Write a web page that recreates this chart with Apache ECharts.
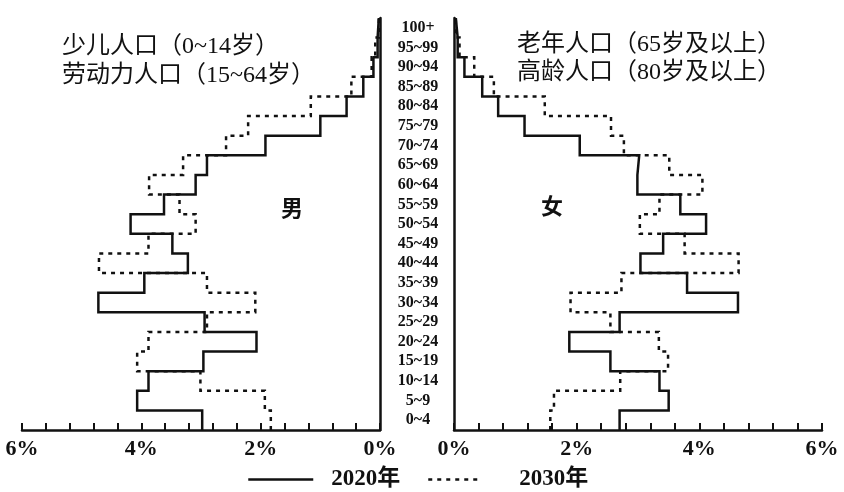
<!DOCTYPE html>
<html>
<head>
<meta charset="utf-8">
<title>人口金字塔</title>
<script src="https://cdn.jsdelivr.net/npm/echarts@6/dist/echarts.min.js"></script>
<style>
  html, body { margin: 0; background: #fff; }
  #chart { width: 844px; height: 492px; }
</style>
</head>
<body>
<div id="chart"></div>
<script>
// 年龄组（自下而上）
const ageGroups = ["0~4", "5~9", "10~14", "15~19", "20~24", "25~29", "30~34", "35~39", "40~44", "45~49",
  "50~54", "55~59", "60~64", "65~69", "70~74", "75~79", "80~84", "85~89", "90~94", "95~99", "100+"];

// 男性占比（%）
const male2020 = [2.98, 4.07, 3.88, 2.96, 2.07, 2.94, 4.72, 3.95, 3.22, 3.48,
  4.18, 3.62, 3.09, 2.90, 1.92, 1.00, 0.56, 0.28, 0.11, 0.04, 0.02];
const male2030 = [1.83, 1.93, 3.01, 4.07, 3.88, 2.90, 2.09, 2.90, 4.71, 3.88,
  3.09, 3.36, 3.87, 3.30, 2.58, 2.21, 1.16, 0.48, 0.14, 0.08, 0.02];

// 女性占比（%）
const female2020 = [2.70, 3.50, 3.35, 2.55, 1.88, 2.70, 4.63, 3.80, 3.04, 3.41,
  4.11, 3.69, 2.99, 3.02, 2.05, 1.15, 0.72, 0.46, 0.17, 0.06, 0.03];
const female2030 = [1.57, 1.63, 2.71, 3.49, 3.34, 2.55, 1.90, 2.73, 4.64, 3.76,
  3.03, 3.35, 4.05, 3.51, 2.77, 2.56, 1.48, 0.65, 0.33, 0.09, 0.03];

const pctTicks = [0, 2, 4, 6];

const serifFont = '"Liberation Serif", "DejaVu Serif", "Noto Sans CJK SC", serif';
const ink = "#111";

// 每个年龄组画成一段竖线，相邻组之间用横线相连（阶梯轮廓）
function stepPoints(values) {
  const pts = [];
  values.forEach((v, i) => {
    pts.push([v, i * 5]);
    pts.push([v, i * 5 + 5]);
  });
  return pts;
}

const pctLabel = (v) => {
  const r = Math.round(v * 10) / 10;
  return pctTicks.includes(r) ? r + "%" : "";
};

const xAxisBase = (gridIndex, inverse) => ({
  type: "value",
  gridIndex,
  inverse,
  min: 0,
  max: 6,
  interval: 0.4,
  axisLine: { onZero: false, lineStyle: { color: ink, width: 2.5 } },
  axisTick: { inside: true, length: 7, lineStyle: { color: ink, width: 2 } },
  splitLine: { show: false },
  axisLabel: {
    formatter: pctLabel,
    color: ink,
    fontFamily: serifFont,
    fontWeight: "bold",
    fontSize: 22,
    margin: 8,
  },
});

const lineSolid = { color: ink, width: 2.5, type: "solid", cap: "butt", join: "miter" };
const lineDash = { color: ink, width: 2.5, type: [4, 5], cap: "butt", join: "miter" };

const legendText = {
  color: ink,
  fontFamily: serifFont,
  fontWeight: "bold",
  fontSize: 23,
};

const chart = echarts.init(document.getElementById("chart"));

chart.setOption({
  animation: false,
  backgroundColor: "#fff",
  color: [ink, ink],
  grid: [
    { left: 22, width: 358, top: 18, bottom: 62 },
    { left: 454, width: 368, top: 18, bottom: 62 },
  ],
  xAxis: [xAxisBase(0, true), xAxisBase(1, false)],
  yAxis: [
    {
      type: "category",
      gridIndex: 0,
      position: "right",
      data: ageGroups,
      axisLine: { onZero: false, lineStyle: { color: ink, width: 2.5 } },
      axisTick: { show: false },
      axisLabel: {
        align: "center",
        margin: 38,
        color: ink,
        fontFamily: serifFont,
        fontWeight: "bold",
        fontSize: 16,
        interval: 0,
      },
    },
    { type: "value", gridIndex: 0, min: 0, max: 105, show: false },
    {
      type: "category",
      gridIndex: 1,
      position: "left",
      data: ageGroups,
      axisLine: { onZero: false, lineStyle: { color: ink, width: 2.5 } },
      axisTick: { show: false },
      axisLabel: { show: false },
    },
    { type: "value", gridIndex: 1, min: 0, max: 105, show: false },
  ],
  legend: [
    {
      data: ["2020年"],
      left: 247,
      top: 468,
      padding: 0,
      itemWidth: 65,
      itemHeight: 14,
      itemStyle: { opacity: 0 },
      lineStyle: { width: 2.5 },
      textStyle: Object.assign({ padding: [0, 0, 0, 13] }, legendText),
    },
    {
      data: ["2030年"],
      left: 427,
      top: 468,
      padding: 0,
      itemWidth: 54,
      itemHeight: 14,
      itemStyle: { opacity: 0 },
      lineStyle: { width: 2.5 },
      textStyle: Object.assign({ padding: [0, 0, 0, 32] }, legendText),
    },
  ],
  series: [
    { name: "2030年", type: "line", xAxisIndex: 0, yAxisIndex: 1, symbol: "none",
      data: stepPoints(male2030), lineStyle: lineDash },
    { name: "2020年", type: "line", xAxisIndex: 0, yAxisIndex: 1, symbol: "none",
      data: stepPoints(male2020), lineStyle: lineSolid },
    { name: "2030年", type: "line", xAxisIndex: 1, yAxisIndex: 3, symbol: "none",
      data: stepPoints(female2030), lineStyle: lineDash },
    { name: "2020年", type: "line", xAxisIndex: 1, yAxisIndex: 3, symbol: "none",
      data: stepPoints(female2020), lineStyle: lineSolid },
  ],
  graphic: [
    { type: "text", x: 62, y: 47, style: { text: "少儿人口（0~14岁）", fill: ink,
      font: "24px " + serifFont, verticalAlign: "middle" } },
    { type: "text", x: 62, y: 76, style: { text: "劳动力人口（15~64岁）", fill: ink,
      font: "24px " + serifFont, verticalAlign: "middle" } },
    { type: "text", x: 517, y: 45, style: { text: "老年人口（65岁及以上）", fill: ink,
      font: "24px " + serifFont, verticalAlign: "middle" } },
    { type: "text", x: 517, y: 73, style: { text: "高龄人口（80岁及以上）", fill: ink,
      font: "24px " + serifFont, verticalAlign: "middle" } },
    { type: "text", x: 292, y: 210, style: { text: "男", fill: ink,
      font: "bold 22px " + serifFont, align: "center", verticalAlign: "middle" } },
    { type: "text", x: 552, y: 208, style: { text: "女", fill: ink,
      font: "bold 22px " + serifFont, align: "center", verticalAlign: "middle" } },
  ],
});
</script>
</body>
</html>
